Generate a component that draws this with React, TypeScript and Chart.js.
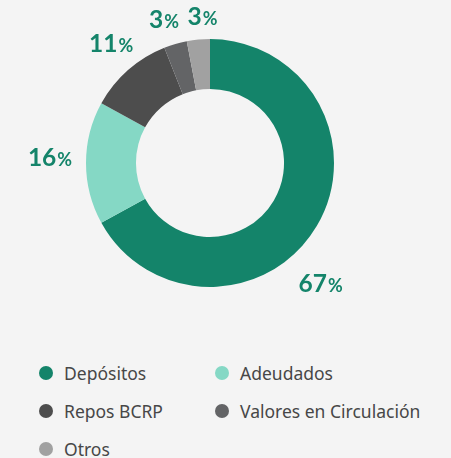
import React, { useEffect, useRef, useState } from "react";
import { Chart, registerables } from "chart.js";

Chart.register(...registerables);

const categories = ["Depósitos", "Adeudados", "Repos BCRP", "Valores en Circulación", "Otros"];
const shares = [67, 16, 11, 3, 3];
const colors = ["#14846a", "#85d8c5", "#4d4d4d", "#636466", "#a1a1a1"];
// label nudges (px) relative to a ring just outside the doughnut
const labelNudge: [number, number][] = [
  [-22, 42],
  [-6, -6],
  [3, -4],
  [-3, 4],
  [7, 7],
];

const labelPlugin = {
  id: "outerLabels",
  afterDatasetsDraw(chart: any) {
    const ctx = chart.ctx;
    const meta = chart.getDatasetMeta(0);
    const ds = chart.data.datasets[0];
    meta.data.forEach((arc: any, i: number) => {
      const p = arc.getProps(["x", "y", "startAngle", "endAngle", "outerRadius"], true);
      const mid = (p.startAngle + p.endAngle) / 2;
      const r = p.outerRadius + 30;
      const cx = p.x + Math.cos(mid) * r + labelNudge[i][0];
      const cy = p.y + Math.sin(mid) * r + labelNudge[i][1];
      const num = String(ds.data[i]);
      ctx.save();
      ctx.fillStyle = "#14846a";
      ctx.textBaseline = "alphabetic";
      ctx.font = "bold 24.5px Lato";
      const w1 = ctx.measureText(num).width;
      ctx.font = "bold 18px Lato";
      const w2 = ctx.measureText("%").width;
      const x0 = cx - (w1 + w2 + 1) / 2;
      const base = cy + 8.5;
      ctx.font = "bold 24.5px Lato";
      ctx.textAlign = "left";
      ctx.fillText(num, x0, base);
      ctx.font = "bold 18px Lato";
      ctx.fillText("%", x0 + w1 + 1, base);
      ctx.restore();
    });
  },
};

export default function App() {
  const ref = useRef<HTMLCanvasElement | null>(null);
  const [items, setItems] = useState<{ text: string; color: string }[]>([]);

  useEffect(() => {
    document.body.style.margin = "0";
    document.body.style.background = "#f4f4f4";
    if (!ref.current) return;
    const chart = new Chart(ref.current, {
      type: "doughnut",
      data: {
        labels: categories,
        datasets: [
          {
            data: shares,
            backgroundColor: colors,
            borderWidth: 0,
          },
        ],
      },
      options: {
        animation: false,
        responsive: false,
        maintainAspectRatio: false,
        cutout: "59.7%",
        layout: { padding: { left: 86, right: 117, top: 39, bottom: 43 } },
        plugins: {
          legend: { display: false },
          tooltip: { enabled: false },
        },
      },
      plugins: [labelPlugin],
    });
    const gen = (Chart as any).overrides.doughnut.plugins.legend.labels.generateLabels(chart);
    setItems(gen.map((g: any) => ({ text: g.text, color: g.fillStyle })));
    return () => chart.destroy();
  }, []);

  return (
    <div
      style={{
        position: "relative",
        width: 451,
        height: 458,
        background: "#f4f4f4",
        overflow: "hidden",
      }}
    >
      <canvas
        ref={ref}
        width={451}
        height={330}
        style={{ position: "absolute", left: 0, top: 0, width: 451, height: 330 }}
      />
      <div
        style={{
          position: "absolute",
          left: 39,
          top: 354,
          display: "grid",
          gridTemplateColumns: "176px auto",
          gridAutoRows: "38px",
          fontFamily: "'Noto Sans', sans-serif",
          fontSize: 17.5,
          color: "#474747",
        }}
      >
        {items.map((it) => (
          <div key={it.text} style={{ display: "flex", alignItems: "center", whiteSpace: "nowrap" }}>
            <span
              style={{
                display: "inline-block",
                width: 14,
                height: 14,
                borderRadius: 7,
                background: it.color,
                marginRight: 11,
                flex: "none",
              }}
            />
            <span>{it.text}</span>
          </div>
        ))}
      </div>
    </div>
  );
}
